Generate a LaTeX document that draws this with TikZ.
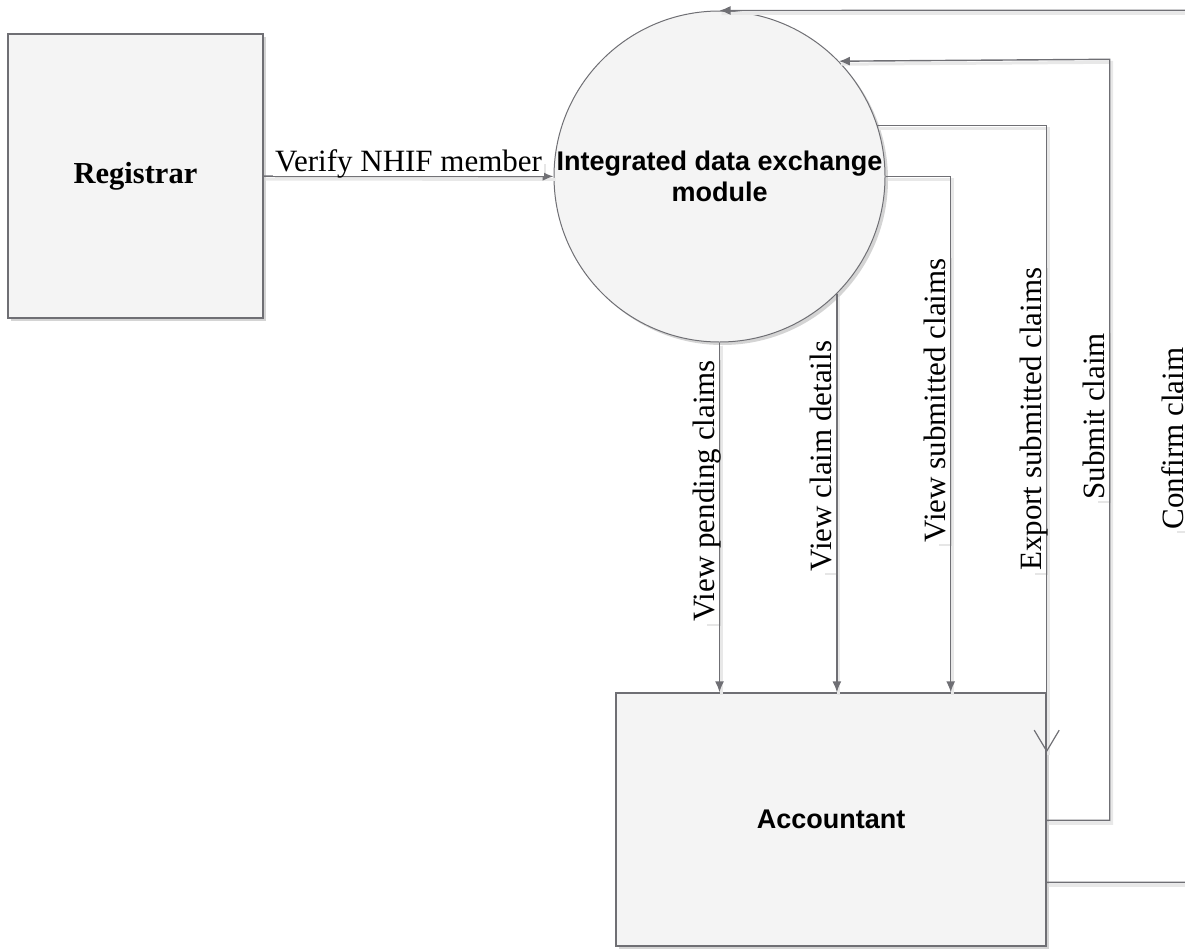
\documentclass[tikz,border=0pt]{standalone}
\usepackage{fontspec}
\setmainfont{Liberation Serif}
\newfontfamily\headsans{Liberation Sans}
\usetikzlibrary{arrows.meta,calc,shadows}
\definecolor{edgegray}{HTML}{6F6F74}
\definecolor{boxfill}{HTML}{F4F4F4}
\begin{document}
\begin{tikzpicture}[x=1pt,y=-1pt,
  entity/.style={draw=edgegray, line width=1.4pt, fill=boxfill, inner sep=0pt,
    drop shadow={shadow xshift=3pt, shadow yshift=-3pt, fill=black!60, opacity=0.28}},
  process/.style={circle, draw=edgegray, line width=1pt, fill=boxfill, inner sep=0pt,
    minimum size=331pt, align=center,
    font=\headsans\bfseries\fontsize{27}{31}\selectfont,
    drop shadow={shadow xshift=3pt, shadow yshift=-3pt, fill=black!60, opacity=0.28}},
  lineshade/.style={preaction={draw=black!9, line width=3pt, -,
    transform canvas={shift={(2pt,-3pt)}}}},
  flow/.style={draw=edgegray, line width=1.4pt, lineshade, -{Latex[length=11pt,width=9pt]}},
  openflow/.style={draw=edgegray, line width=1.4pt, lineshade,
    -{Straight Barb[length=21pt,width=25pt,line width=1.2pt]}},
  lbl/.style={fill=white, inner sep=2pt, font=\fontsize{31}{34}\selectfont,
    text height=0.72em, text depth=0.22em,
    drop shadow={shadow xshift=2pt, shadow yshift=-2pt, fill=black!50, opacity=0.2}},
  vlbl/.style={lbl, rotate=90, anchor=south},
]
\useasboundingbox (0,0) rectangle (1185,948);
\clip (0,0) rectangle (1185,948);

% external entities and the central process
\node[entity, minimum width=255pt, minimum height=284pt,
      font=\bfseries\fontsize{30.5}{34}\selectfont] (reg) at (135.5,176) {Registrar};
\node[process] (idx) at (719.5,176.5) {Integrated data exchange\\module};
\node[entity, minimum width=430pt, minimum height=253pt,
      font=\headsans\bfseries\fontsize{27}{31}\selectfont] (acc) at (831,819.5) {Accountant};

% Registrar -> module
\draw[flow] (reg) -- node[lbl, above, pos=0.5] {Verify NHIF member} (idx);

% module -> Accountant
\draw[flow] (idx.south) -- node[vlbl, pos=0.424] {View pending claims} (idx.south |- acc.north);
\draw[flow] (idx.-45.7) -- node[vlbl, pos=0.407] {View claim details} (idx.-45.7 |- acc.north);
\draw[flow] (idx.east) -| node[vlbl, pos=0.717] {View submitted claims} ($(acc.north east)+(-96,0)$);
\draw[openflow] (idx.18.5) -- (idx.18.5 -| acc.east)
  -- node[vlbl, pos=0.469] {Export submitted claims} ($(acc.north east)+(0,60)$);

% Accountant -> module
\draw[flow] ($(acc.north east)+(0,128)$) -- ++(63,0)
  -- node[vlbl, pos=0.531] {Submit claim} ++(0,-761) -- (idx.44.7);
\draw[flow] ($(acc.north east)+(0,190)$) -- ++(141,0)
  -- node[vlbl, pos=0.509, text depth=0.12em] {Confirm claim} ++(0,-872) -- (idx.north);
\end{tikzpicture}
\end{document}
